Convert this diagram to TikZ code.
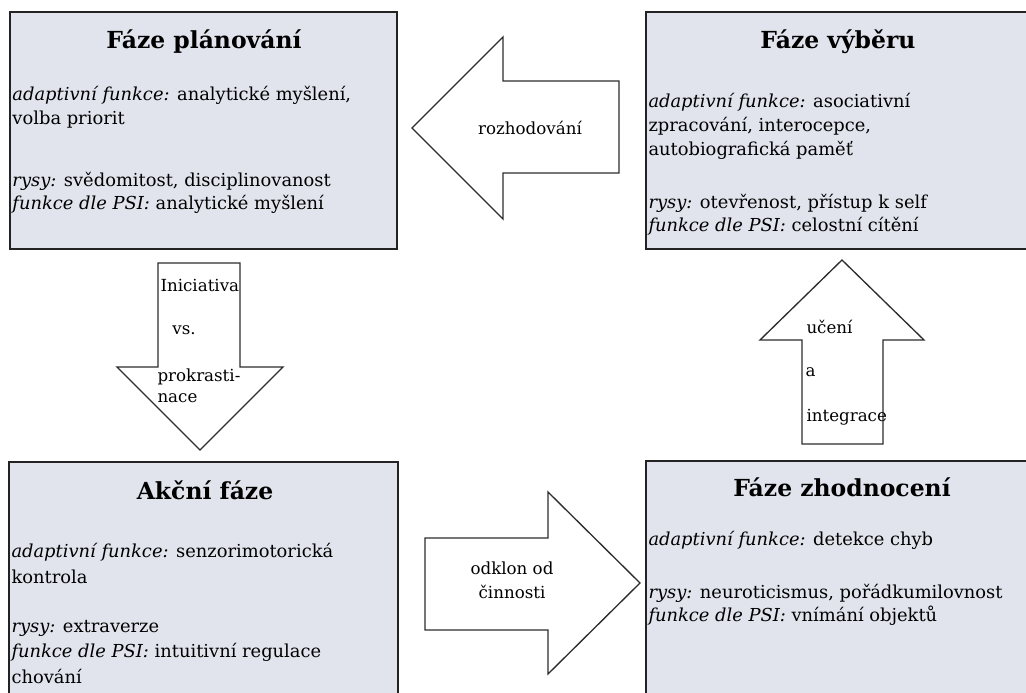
\documentclass[tikz,border=0pt]{standalone}
\usepackage{fontspec}
\setmainfont{DejaVu Serif}
\usepackage{tikz}
\tikzset{every picture/.style={line width=0.75pt}}

\begin{document}
\begin{tikzpicture}[x=0.75pt,y=0.75pt,yscale=-1,xscale=1,
  phasebox/.style={draw={rgb, 255:red, 35; green, 35; blue, 35 }, line width=1.4pt, fill={rgb, 255:red, 225; green, 228; blue, 237 }},
  blockarrow/.style={draw={rgb, 255:red, 45; green, 45; blue, 45 }, line width=1pt, fill=white},
  phasetitle/.style={font=\fontsize{17.6}{20}\selectfont\bfseries, inner sep=0pt},
  phaseline/.style={font=\fontsize{13.4}{16}\selectfont, anchor=west, inner sep=0pt},
  arrowlabel/.style={font=\fontsize{12.5}{15}\selectfont, inner sep=0pt}]
%set diagram size 1026 x 693
\clip (0,0) rectangle (1026,693);
\fill[white] (0,0) rectangle (1026,693);

%Shape: Rectangle [planning]
\draw[phasebox] (10,12) rectangle (397,249);
%Shape: Rectangle [selection]
\draw[phasebox] (646,12) rectangle (1040,249);
%Shape: Rectangle [action]
\draw[phasebox] (9,462) rectangle (398,710);
%Shape: Rectangle [evaluation]
\draw[phasebox] (646,461) rectangle (1040,710);

%Shape: Left Arrow
\draw[blockarrow] (412,128) -- (503,37) -- (503,81) -- (619,81) -- (619,173) -- (503,173) -- (503,219) -- cycle;
%Shape: Down Arrow
\draw[blockarrow] (158,263) -- (240,263) -- (240,367) -- (283,367) -- (200,450) -- (117,367) -- (158,367) -- cycle;
%Shape: Up Arrow
\draw[blockarrow] (842,260) -- (924,340) -- (883,340) -- (883,444) -- (802,444) -- (802,340) -- (760,340) -- cycle;
%Shape: Right Arrow
\draw[blockarrow] (425,538) -- (548,538) -- (548,492) -- (640,583) -- (548,674) -- (548,630) -- (425,630) -- cycle;

%Text: planning
\node[phasetitle] (planTitle) at (204,42) {Fáze plánování};
\node[phaseline] (planA) at (12,95) {\textit{adaptivní funkce:} analytické myšlení,};
\node[phaseline] (planB) at (12,120) {volba priorit};
\node[phaseline] (planC) at (12,181) {\textit{rysy:} svědomitost, disciplinovanost};
\node[phaseline] (planD) at (12,204) {\textit{funkce dle PSI:} analytické myšlení};

%Text: selection
\node[phasetitle] (selTitle) at (838,42) {Fáze výběru};
\node[phaseline] (selA) at (648,102) {\textit{adaptivní funkce:} asociativní};
\node[phaseline] (selB) at (648,126) {zpracování, interocepce,};
\node[phaseline] (selC) at (648,150) {autobiografická paměť};
\node[phaseline] (selD) at (648,203) {\textit{rysy:} otevřenost, přístup k self};
\node[phaseline] (selE) at (648,226) {\textit{funkce dle PSI:} celostní cítění};

%Text: action
\node[phasetitle] (actTitle) at (205,490) {Akční fáze};
\node[phaseline] (actA) at (11,552) {\textit{adaptivní funkce:} senzorimotorická};
\node[phaseline] (actB) at (11,577) {kontrola};
\node[phaseline] (actC) at (11,628) {\textit{rysy:} extraverze};
\node[phaseline] (actD) at (11,652) {\textit{funkce dle PSI:} intuitivní regulace};
\node[phaseline] (actE) at (11,676) {chování};

%Text: evaluation
\node[phasetitle] (evalTitle) at (842,487) {Fáze zhodnocení};
\node[phaseline] (evalA) at (648,540) {\textit{adaptivní funkce:} detekce chyb};
\node[phaseline] (evalB) at (648,593) {\textit{rysy:} neuroticismus, pořádkumilovnost};
\node[phaseline] (evalC) at (648,616) {\textit{funkce dle PSI:} vnímání objektů};

%Text: arrows
\node[arrowlabel] (decide) at (530,128) {rozhodování};
\node[arrowlabel, anchor=west] (initA) at (160,285) {Iniciativa};
\node[arrowlabel] (initB) at (184,330) {vs.};
\node[arrowlabel, anchor=west] (initC) at (157,377) {prokrasti-};
\node[arrowlabel, anchor=west] (initD) at (157,398) {nace};
\node[arrowlabel, anchor=west] (learnA) at (806,327) {učení};
\node[arrowlabel, anchor=west] (learnB) at (805,372) {a};
\node[arrowlabel, anchor=west] (learnC) at (806,417) {integrace};
\node[arrowlabel] (driftA) at (512,568) {odklon od};
\node[arrowlabel] (driftB) at (512,592) {činnosti};

\end{tikzpicture}
\end{document}
